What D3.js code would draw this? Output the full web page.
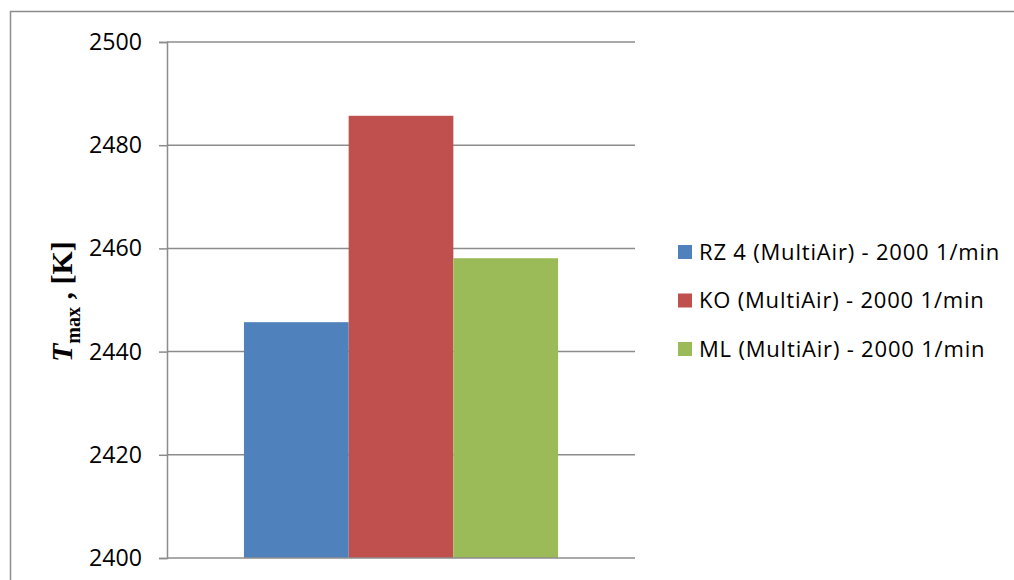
<!DOCTYPE html>
<html>
<head>
<meta charset="utf-8">
<script src="https://cdn.jsdelivr.net/npm/d3@7"></script>
<style>
  html, body { margin: 0; padding: 0; background: #fff; }
  svg { display: block; }
</style>
</head>
<body>
<svg id="chart" width="1014" height="580"></svg>
<script>
// Peak combustion temperature for three valve strategies at 2000 1/min
const seriesNames = [
  "RZ 4 (MultiAir) - 2000 1/min",
  "KO (MultiAir) - 2000 1/min",
  "ML (MultiAir) - 2000 1/min"
];
const seriesValues = [2445.7, 2485.7, 2458.1];
const seriesColors = ["#4f81bd", "#c0504d", "#9bbb59"];
const category = ["2000 1/min"];
const yTicks = [2400, 2420, 2440, 2460, 2480, 2500];

const svg = d3.select("#chart");
const W = 1014, H = 580;
const gridColor = "#8c8c8c";
const labelFont = "'Open Sans', Lato, sans-serif";

// Outer chart frame (runs off the right and bottom edges)
svg.append("rect")
  .attr("x", 10.5).attr("y", 11.5)
  .attr("width", W + 20).attr("height", H + 20)
  .attr("fill", "none").attr("stroke", gridColor).attr("stroke-width", 1.5);

const plot = { left: 167, right: 635, top: 42, bottom: 558 };

const y = d3.scaleLinear().domain([2400, 2500]).range([plot.bottom, plot.top]);
const x0 = d3.scaleBand().domain(category)
  .range([plot.left, plot.right]).paddingInner(0).paddingOuter(0.245);
const x1 = d3.scaleBand().domain(seriesNames)
  .range([0, x0.bandwidth()]).padding(0);

// Horizontal gridlines
svg.append("g")
  .selectAll("line")
  .data(yTicks.filter(t => t > 2400))
  .join("line")
  .attr("x1", plot.left).attr("x2", plot.right)
  .attr("y1", d => y(d)).attr("y2", d => y(d))
  .attr("stroke", gridColor).attr("stroke-width", 1.5);

// Bars
const group = svg.append("g")
  .selectAll("g")
  .data(category)
  .join("g")
  .attr("transform", d => `translate(${x0(d)},0)`);

group.selectAll("rect")
  .data(seriesNames.map((n, i) => ({ name: n, value: seriesValues[i], color: seriesColors[i] })))
  .join("rect")
  .attr("x", d => x1(d.name))
  .attr("width", x1.bandwidth())
  .attr("y", d => y(d.value))
  .attr("height", d => y(2400) - y(d.value))
  .attr("fill", d => d.color);

// Y axis with outward ticks
const yAxis = d3.axisLeft(y).tickValues(yTicks).tickSize(8).tickPadding(17)
  .tickFormat(d3.format("d"));
const gy = svg.append("g")
  .attr("transform", `translate(${plot.left},0)`)
  .call(yAxis);
gy.select(".domain").attr("stroke", gridColor).attr("stroke-width", 1.5);
gy.selectAll(".tick line").attr("stroke", gridColor).attr("stroke-width", 1.5);
const tickText = gy.selectAll(".tick text")
  .attr("fill", "#000")
  .style("font-family", labelFont)
  .style("font-size", "23px");
// Size the tick labels so a four-digit label is about 53px wide
const tickLen = tickText.node().getComputedTextLength();
if (tickLen > 0) tickText.style("font-size", (23 * 53 / tickLen).toFixed(2) + "px");

// Category axis baseline (no labels)
svg.append("line")
  .attr("x1", plot.left).attr("x2", plot.right)
  .attr("y1", plot.bottom).attr("y2", plot.bottom)
  .attr("stroke", gridColor).attr("stroke-width", 1.5);

// Y axis title: T_max , [K]
const title = svg.append("text")
  .attr("transform", "translate(72,362) rotate(-90)")
  .attr("text-anchor", "start")
  .style("font-family", "'Liberation Serif', 'Times New Roman', serif")
  .style("font-weight", "bold")
  .style("font-size", "30px")
  .attr("fill", "#000");
title.append("tspan").style("font-style", "italic").text("T");
title.append("tspan").attr("dy", 8).style("font-size", "20px").text("max");
title.append("tspan").attr("dy", -8).text(" , [K]");

// Legend
const legend = svg.append("g")
  .selectAll("g")
  .data(seriesNames)
  .join("g")
  .attr("transform", (d, i) => `translate(678,${252 + i * 48.5})`);
legend.append("rect")
  .attr("x", 0).attr("y", -7).attr("width", 14).attr("height", 14)
  .attr("fill", (d, i) => seriesColors[i]);
const legendText = legend.append("text")
  .attr("x", 21).attr("y", 0).attr("dy", "0.36em")
  .style("font-family", labelFont)
  .style("font-size", "22px")
  .attr("fill", "#000")
  .text(d => d);
// Open up the letter spacing so the longest entry spans about 301px
const firstLen = legendText.node().getComputedTextLength();
if (firstLen > 0 && firstLen < 301) {
  const ls = (301 - firstLen) / seriesNames[0].length;
  legendText.style("letter-spacing", ls.toFixed(2) + "px");
}
</script>
</body>
</html>
